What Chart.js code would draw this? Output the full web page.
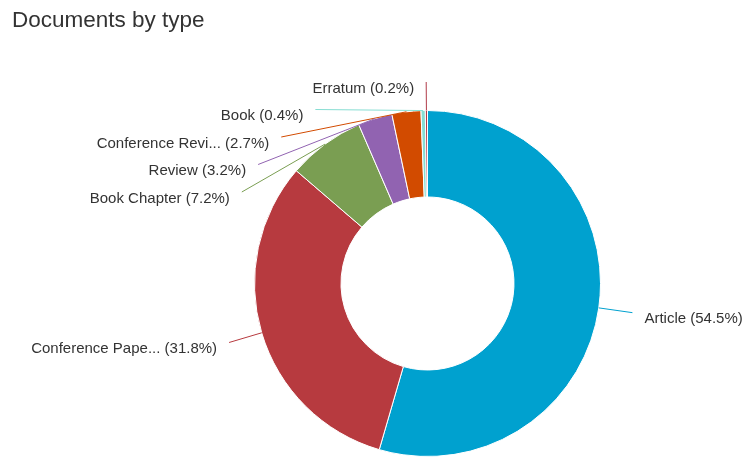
<!DOCTYPE html>
<html>
<head>
<meta charset="utf-8">
<script src="https://cdn.jsdelivr.net/npm/chart.js@4.4.0/dist/chart.umd.min.js"></script>
<style>
  html, body { margin: 0; padding: 0; background: #fff; }
  canvas { display: block; }
</style>
</head>
<body>
<canvas id="docTypes" width="748" height="457"></canvas>
<script>
const docTypes = ['Article', 'Conference Paper', 'Book Chapter', 'Review', 'Conference Review', 'Book', 'Erratum'];
const docShares = [54.5, 31.8, 7.2, 3.2, 2.7, 0.4, 0.2];
const sliceColors = ['#00a1cf', '#b73a3f', '#7a9e52', '#9163b1', '#d24b00', '#86ddd2', '#b03a48'];

const FONT = '"Liberation Sans", Arial, sans-serif';

// long names get cut like "Conference Pape..."
function shortName(name) {
  return name.length > 15 ? name.slice(0, 15) + '...' : name;
}

// outside labels with connector lines, plus the title
const pieLabels = {
  id: 'pieLabels',
  afterDatasetsDraw(chart) {
    const ctx = chart.ctx;
    const meta = chart.getDatasetMeta(0);
    const data = chart.data.datasets[0].data;
    const gap = 27.5;
    const minY = chart.chartArea.top - 28;
    const left = [], right = [];

    meta.data.forEach((arc, i) => {
      const mid = (arc.startAngle + arc.endAngle) / 2;
      const R = arc.outerRadius + 34;
      const natY = arc.y + Math.sin(mid) * R;
      const item = {
        i, cx: arc.x, cy: arc.y, R, natY,
        sx: arc.x + Math.cos(mid) * arc.outerRadius,
        sy: arc.y + Math.sin(mid) * arc.outerRadius,
        x: arc.x + Math.cos(mid) * R,
        y: Math.max(minY, natY),
        left: Math.cos(mid) < 0
      };
      (item.left ? left : right).push(item);
    });

    // push crowded labels down so they don't overlap
    [left, right].forEach(side => {
      side.sort((a, b) => a.natY - b.natY);
      for (let k = 1; k < side.length; k++) {
        const prev = side[k - 1], cur = side[k];
        if (cur.y < prev.y + gap) {
          cur.y = prev.y + gap;
          const dy = cur.y - cur.cy;
          const dx = Math.sqrt(Math.max(0, cur.R * cur.R - dy * dy));
          cur.x = cur.left ? cur.cx - dx : cur.cx + dx;
        }
      }
    });

    ctx.save();
    ctx.font = '15px ' + FONT;
    ctx.textBaseline = 'alphabetic';
    left.concat(right).forEach(l => {
      ctx.strokeStyle = sliceColors[l.i];
      ctx.lineWidth = 1;
      ctx.beginPath();
      ctx.moveTo(l.sx, l.sy);
      ctx.lineTo(l.x, l.y);
      ctx.stroke();

      const text = shortName(docTypes[l.i]) + ' (' + data[l.i].toFixed(1) + '%)';
      ctx.fillStyle = '#333333';
      ctx.textAlign = l.left ? 'right' : 'left';
      ctx.fillText(text, l.left ? l.x - 12 : l.x + 12, l.y + 10.5);
    });

    ctx.font = '22.5px ' + FONT;
    ctx.textAlign = 'left';
    ctx.fillStyle = '#333333';
    ctx.fillText('Documents by type', 12, 27);
    ctx.restore();
  }
};

new Chart(document.getElementById('docTypes'), {
  type: 'doughnut',
  data: {
    labels: docTypes,
    datasets: [{
      data: docShares,
      backgroundColor: sliceColors,
      borderColor: '#ffffff',
      borderWidth: 1,
      hoverOffset: 0
    }]
  },
  options: {
    responsive: false,
    animation: false,
    cutout: '50%',
    layout: {
      padding: { left: 254, right: 147, top: 110, bottom: 0 }
    },
    plugins: {
      legend: { display: false },
      tooltip: { enabled: false }
    }
  },
  plugins: [pieLabels]
});
</script>
</body>
</html>
